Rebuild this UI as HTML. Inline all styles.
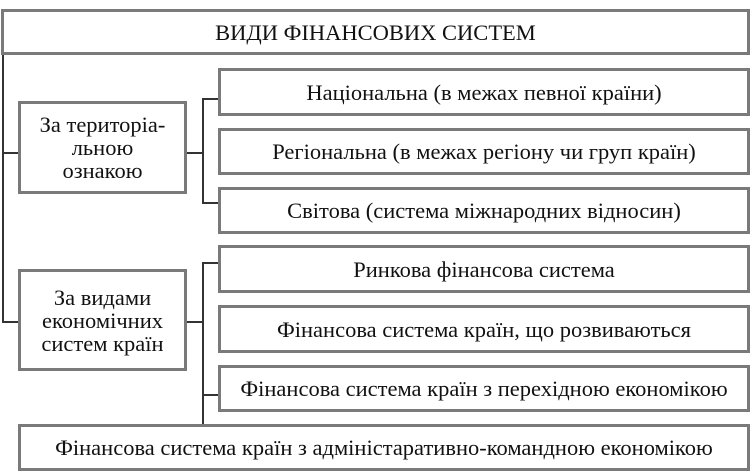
<!DOCTYPE html>
<html><head><meta charset="utf-8"><style>
body{margin:0;width:751px;height:473px;background:#fff;position:relative;overflow:hidden;font-family:"Liberation Serif",serif;color:#111}
.b{position:absolute;box-sizing:border-box;border:3px solid #7a7a7a;background:#fff;display:flex;align-items:center;justify-content:center;text-align:center;font-size:22.5px;line-height:23px;white-space:nowrap}
.l{position:absolute;background:#333}
</style></head><body>
<div class="l" style="left:2px;top:54px;width:2px;height:268px"></div>
<div class="l" style="left:2px;top:152px;width:18px;height:2px"></div>
<div class="l" style="left:2px;top:321px;width:18px;height:2px"></div>
<div class="l" style="left:186px;top:152px;width:18px;height:2px"></div>
<div class="l" style="left:186px;top:321px;width:18px;height:2px"></div>
<div class="l" style="left:202px;top:98px;width:2px;height:106px"></div>
<div class="l" style="left:202px;top:98px;width:18px;height:2px"></div>
<div class="l" style="left:202px;top:202px;width:18px;height:2px"></div>
<div class="l" style="left:202px;top:262px;width:2px;height:164px"></div>
<div class="l" style="left:202px;top:262px;width:18px;height:2px"></div>
<div class="l" style="left:202px;top:394px;width:18px;height:2px"></div>

<div class="b" style="left:1px;top:9px;width:749px;height:46px">ВИДИ ФІНАНСОВИХ СИСТЕМ</div>
<div class="b" style="left:18px;top:101px;width:169px;height:93px">За територіа-<br>льною<br>ознакою</div>
<div class="b" style="left:218px;top:68px;width:532px;height:48px">Національна (в межах певної країни)</div>
<div class="b" style="left:218px;top:128px;width:532px;height:47px">Регіональна (в межах регіону чи груп країн)</div>
<div class="b" style="left:218px;top:187px;width:532px;height:47px">Світова (система міжнародних відносин)</div>
<div class="b" style="left:18px;top:269px;width:169px;height:102px">За видами<br>економічних<br>систем країн</div>
<div class="b" style="left:218px;top:245px;width:532px;height:48px">Ринкова фінансова система</div>
<div class="b" style="left:218px;top:305px;width:532px;height:48px">Фінансова система країн, що розвиваються</div>
<div class="b" style="left:218px;top:365px;width:532px;height:47px">Фінансова система країн з перехідною економікою</div>
<div class="b" style="left:18px;top:424px;width:732px;height:47px">Фінансова система країн з адміністаративно-командною економікою</div>
</body></html>
